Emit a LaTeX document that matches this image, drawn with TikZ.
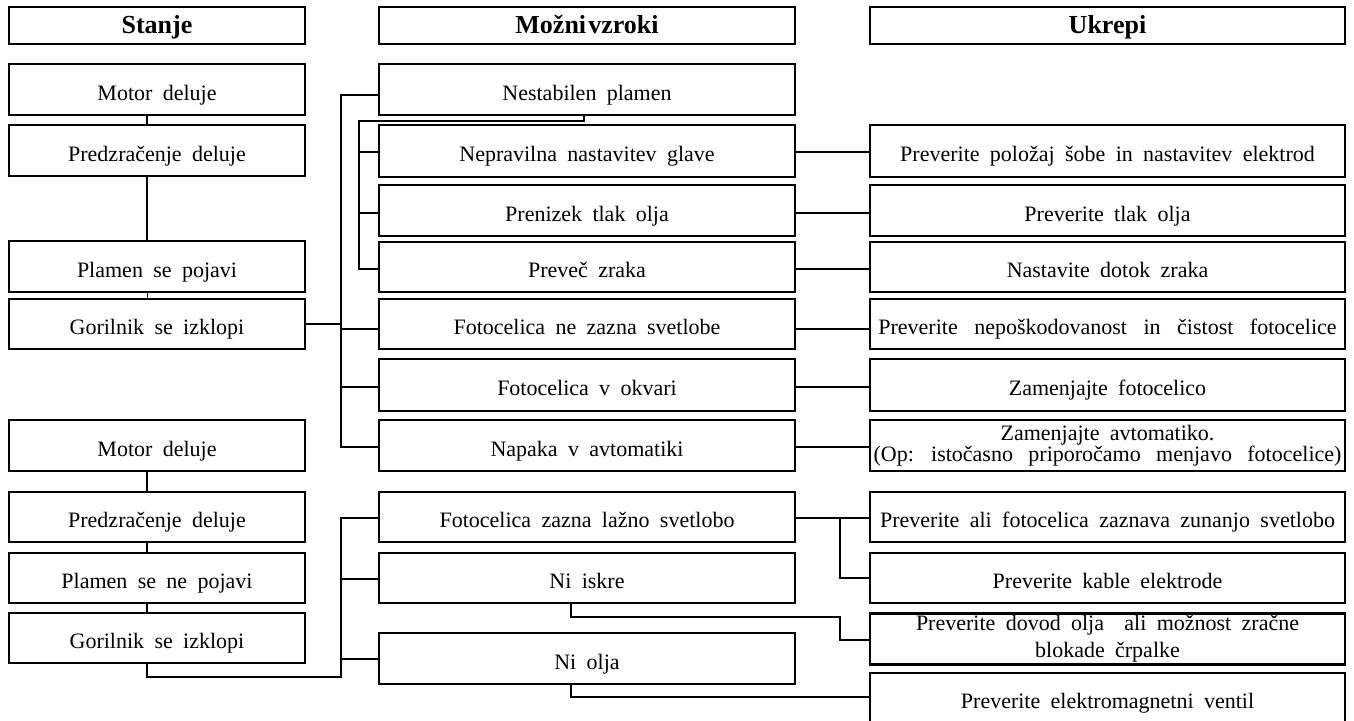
\documentclass[tikz,border=0pt]{standalone}
\usepackage{fontspec}
\setmainfont{Liberation Serif}
\newcommand\bodyfnt{\fontsize{22}{24}\selectfont\spaceskip=0.47em plus 0.1em\relax}
\newcommand\widefnt{\fontsize{22}{24}\selectfont\spaceskip=0.75em plus 0.1em\relax}
\newcommand\twofntA{\fontsize{22}{21}\selectfont\spaceskip=0.47em plus 0.1em\relax}
\newcommand\twofntB{\fontsize{22}{27}\selectfont\spaceskip=0.47em plus 0.1em\relax}
\newcommand\headfnt{\fontsize{26}{28}\selectfont\bfseries\spaceskip=0.08em\relax}
\tikzset{
  box/.style={draw, line width=2.8pt, inner sep=0pt, outer sep=0pt, align=center, minimum height=51},
  one/.style={font=\bodyfnt, text height=21, text depth=0},
  two/.style={text height={}, text depth={}},
  head/.style={box, font=\headfnt, text height=17, text depth=2, minimum height=37},
  colA/.style={box, minimum width=296},
  colB/.style={box, minimum width=416},
  colC/.style={box, minimum width=475},
  wire/.style={line width=2.8pt},
  thinwire/.style={line width=1pt},
}
\begin{document}
\begin{tikzpicture}[x=1pt, y=-1pt]
\useasboundingbox (0,0) rectangle (1354,720);
\clip (0,0) rectangle (1354,720);
% headers
\node[head, minimum width=296] (hS) at (157,25.5) {Stanje};
\node[head, minimum width=416] (hM) at (587,25.5) {Možni vzroki};
\node[head, minimum width=475] (hU) at (1107.5,25.5) {Ukrepi};
% column A
\node[colA, one] (s1) at (157,89.5) {Motor deluje};
\node[colA, one] (s2) at (157,150.5) {Predzračenje deluje};
\node[colA, one] (s3) at (157,266.5) {Plamen se pojavi};
\node[colA, one, minimum height=50] (s4) at (157,324) {Gorilnik se izklopi};
\node[colA, one] (s5) at (157,445.5) {Motor deluje};
\node[colA, one, minimum height=50] (s6) at (157,517) {Predzračenje deluje};
\node[colA, one, minimum height=50] (s7) at (157,578) {Plamen se ne pojavi};
\node[colA, one, minimum height=50] (s8) at (157,638) {Gorilnik se izklopi};
% column B
\node[colB, one] (c1) at (587,89.5) {Nestabilen plamen};
\node[colB, one, minimum height=52] (c2) at (587,151) {Nepravilna nastavitev glave};
\node[colB, one] (c3) at (587,210.5) {Prenizek tlak olja};
\node[colB, one, minimum height=50] (c4) at (587,267) {Preveč zraka};
\node[colB, one, minimum height=50] (c5) at (587,324) {Fotocelica ne zazna svetlobe};
\node[colB, one, minimum height=52] (c6) at (587,385) {Fotocelica v okvari};
\node[colB, one] (c7) at (587,445.5) {Napaka v avtomatiki};
\node[colB, one, minimum height=50] (c8) at (587,517) {Fotocelica zazna lažno svetlobo};
\node[colB, one, minimum height=50] (c9) at (587,578) {Ni iskre};
\node[colB, one] (c10) at (587,658.5) {Ni olja};
% column C
\node[colC, one, minimum height=52] (u2) at (1107.5,151) {Preverite položaj šobe in nastavitev elektrod};
\node[colC, one] (u3) at (1107.5,210.5) {Preverite tlak olja};
\node[colC, one, minimum height=50] (u4) at (1107.5,267) {Nastavite dotok zraka};
\node[colC, one, font=\widefnt, minimum height=50] (u5) at (1107.5,324) {Preverite nepoškodovanost in čistost fotocelice};
\node[colC, one, minimum height=52] (u6) at (1107.5,385) {Zamenjajte fotocelico};
\node[colC, two, font=\twofntA] (u7) at (1107.5,445.5) {Zamenjajte avtomatiko.\\{\spaceskip=0.7em\relax (Op: istočasno priporočamo menjavo fotocelice)}};
\node[colC, one, minimum height=50] (u8) at (1107.5,517) {Preverite ali fotocelica zaznava zunanjo svetlobo};
\node[colC, one, minimum height=50] (u9) at (1107.5,578) {Preverite kable elektrode};
\node[colC, two, font=\twofntB, minimum height=51] (u10) at (1107.5,639) {Preverite dovod olja\hspace{10pt} ali možnost zračne\\blokade črpalke};
\node[colC, one, minimum height=50] (u11) at (1107.5,698) {Preverite elektromagnetni ventil};
% bus coordinates
\coordinate (busA) at (341,0);
\coordinate (busB) at (359,0);
\coordinate (busR) at (840,0);
% column A links
\draw[wire] ([xshift=-10]s1.south) -- ([xshift=-10]s2.north);
\draw[wire] ([xshift=-10]s2.south) -- ([xshift=-10]s3.north);
\draw[thinwire] ([xshift=-10]s3.south) -- ([xshift=-10]s4.north);
\draw[wire] ([xshift=-10]s5.south) -- ([xshift=-10]s6.north);
\draw[wire] ([xshift=-10]s6.south) -- ([xshift=-10]s7.north);
\draw[wire] ([xshift=-10]s7.south) -- ([xshift=-10]s8.north);
% upper causes
\draw[wire] (s4.east) -- (s4.east -| busA);
\draw[wire] (c1.west |- 0,95) -- (busA |- 0,95) -- (busA |- 0,447) -- (c7.west |- 0,447);
\draw[wire] (busA |- 0,329) -- (c5.west |- 0,329);
\draw[wire] (busA |- 0,387) -- (c6.west |- 0,387);
\draw[wire] ([xshift=-3]c1.south) |- (busB |- 0,121) -- (busB |- 0,269) -- (c4.west |- 0,269);
\draw[wire] (busB |- 0,152) -- (c2.west |- 0,152);
\draw[wire] (busB |- 0,213) -- (c3.west |- 0,213);
% upper actions
\draw[wire] (c2.east |- 0,152) -- (u2.west |- 0,152);
\draw[wire] (c3.east |- 0,213) -- (u3.west |- 0,213);
\draw[wire] (c4.east |- 0,269) -- (u4.west |- 0,269);
\draw[wire] (c5.east |- 0,329) -- (u5.west |- 0,329);
\draw[wire] (c6.east |- 0,387) -- (u6.west |- 0,387);
\draw[wire] (c7.east |- 0,447) -- (u7.west |- 0,447);
% lower causes
\draw[wire] ([xshift=-10]s8.south) |- (busA |- 0,677) -- (busA |- 0,518) -- (c8.west |- 0,518);
\draw[wire] (busA |- 0,579) -- (c9.west |- 0,579);
\draw[wire] (busA |- 0,659) -- (c10.west |- 0,659);
% lower actions
\draw[wire] (c8.east |- 0,518) -- (u8.west |- 0,518);
\draw[wire] (busR |- 0,518) |- (u9.west |- 0,578);
\draw[wire] ([xshift=-16]c9.south) |- (busR |- 0,617) |- (u10.west |- 0,640);
\draw[wire] ([xshift=-16]c10.south) |- (u11.west |- 0,697);
\end{tikzpicture}
\end{document}
